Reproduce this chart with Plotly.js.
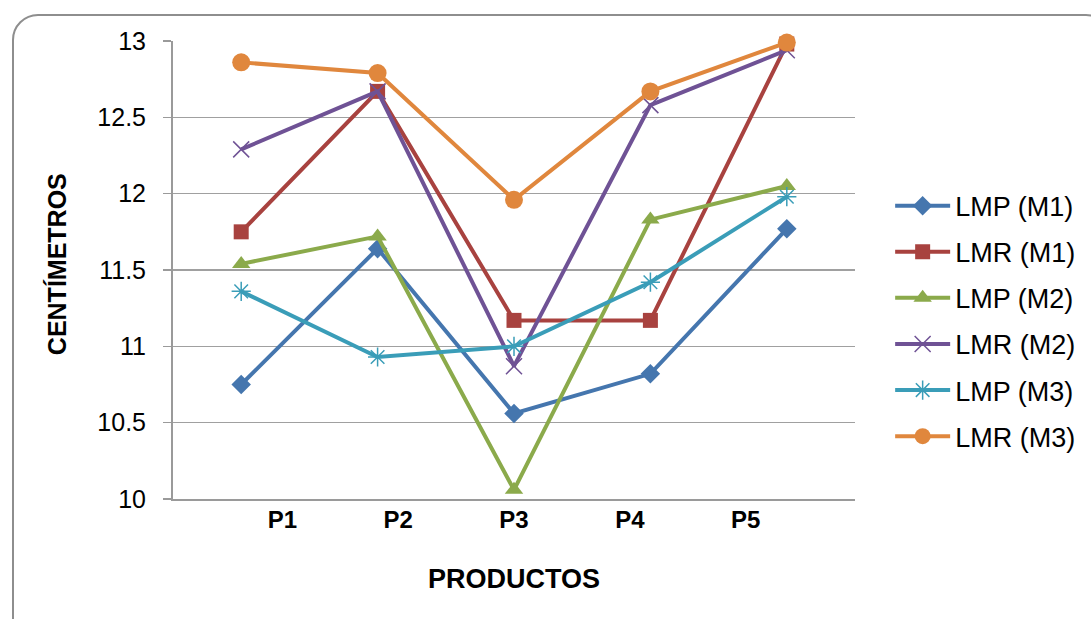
<!DOCTYPE html>
<html>
<head>
<meta charset="utf-8">
<script src="https://cdn.plot.ly/plotly-3.0.1.min.js"></script>
<style>
  html, body { margin: 0; padding: 0; width: 1091px; height: 619px; overflow: hidden; background: #fff; }
  #frame {
    position: absolute; left: 12px; top: 14px; width: 1100px; height: 640px;
    border: 2px solid #8e8e8e; border-radius: 26px; box-sizing: border-box;
  }
  #chart { position: absolute; left: 0; top: 0; width: 1091px; height: 619px; }
</style>
</head>
<body>
<div id="frame"></div>
<div id="chart"></div>
<script>
// Productos evaluados
const productos = ['P1', 'P2', 'P3', 'P4', 'P5'];

// Longitudes en centímetros por serie
const lmpM1 = [10.75, 11.64, 10.56, 10.82, 11.77];
const lmrM1 = [11.75, 12.67, 11.17, 11.17, 12.98];
const lmpM2 = [11.54, 11.72, 10.06, 11.83, 12.05];
const lmrM2 = [12.29, 12.67, 10.87, 12.58, 12.94];
const lmpM3 = [11.36, 10.93, 11.00, 11.42, 11.98];
const lmrM3 = [12.86, 12.79, 11.96, 12.67, 12.99];

const seriesNames = ['LMP (M1)', 'LMR (M1)', 'LMP (M2)', 'LMR (M2)', 'LMP (M3)', 'LMR (M3)'];

const FONT = 'Liberation Sans, Arial, sans-serif';
const productIndex = productos.map((_, i) => i);

function serie(name, values, lineColor, marker) {
  return {
    type: 'scatter', mode: 'lines+markers',
    x: productos, y: values, name: name, legendgroup: name,
    line: { color: lineColor, width: 4 },
    marker: marker,
    cliponaxis: false
  };
}

const traces = [
  serie(seriesNames[0], lmpM1, '#4576AE', { symbol: 'diamond', size: 15, color: '#4576AE' }),
  serie(seriesNames[1], lmrM1, '#A8423F', { symbol: 'square', size: 15, color: '#A8423F' }),
  serie(seriesNames[2], lmpM2, '#8BAA4B', { symbol: 'triangle-up', size: 16, color: '#8BAA4B' }),
  serie(seriesNames[3], lmrM2, '#6F5295', { symbol: 'x-thin-open', size: 16, line: { color: '#9A86BC', width: 1.5 } }),
  serie(seriesNames[4], lmpM3, '#3A9DB8', { symbol: 'asterisk-open', size: 16, line: { color: '#4BB2CC', width: 1.5 } }),
  serie(seriesNames[5], lmrM3, '#E0873D', { symbol: 'circle', size: 18, color: '#E0873D' }),
  // empty trace that carries the category labels axis
  { type: 'scatter', x: [], y: [], xaxis: 'x2', yaxis: 'y', showlegend: false, hoverinfo: 'skip' }
];

const layout = {
  width: 1091, height: 619,
  margin: { l: 173, r: 235, t: 41, b: 120 },
  paper_bgcolor: 'rgba(0,0,0,0)',
  plot_bgcolor: 'rgba(0,0,0,0)',
  font: { family: FONT, color: '#000' },
  showlegend: true,
  legend: {
    x: 1.05, xanchor: 'left', y: 0.693, yanchor: 'top',
    font: { family: FONT, size: 27, color: '#000' },
    traceorder: 'grouped', tracegroupgap: 8,
    bgcolor: 'rgba(0,0,0,0)', itemwidth: 55
  },
  xaxis: {
    type: 'category', range: [-0.5, 4.5],
    showline: true, linecolor: '#9a9a9a', linewidth: 2,
    showgrid: false, zeroline: false, ticks: '', showticklabels: false,
    fixedrange: true
  },
  // category labels, spaced slightly tighter than the points and centred on P3
  xaxis2: {
    overlaying: 'x', anchor: 'y', side: 'bottom',
    range: [-0.944, 4.944], tickmode: 'array', tickvals: productIndex, ticktext: productos,
    showline: false, showgrid: false, zeroline: false, ticks: '',
    tickfont: { family: FONT, size: 24, weight: 'bold', color: '#000' },
    ticklabelstandoff: 4, fixedrange: true
  },
  yaxis: {
    range: [10, 13], dtick: 0.5, tick0: 10,
    showline: true, linecolor: '#9a9a9a', linewidth: 2,
    showgrid: true, gridcolor: '#a0a0a0', gridwidth: 1.5, zeroline: false,
    ticks: 'outside', ticklen: 8, tickcolor: '#9a9a9a', tickwidth: 1.5,
    tickfont: { family: FONT, size: 25, color: '#000' },
    ticklabelstandoff: 12, fixedrange: true
  },
  annotations: [
    { text: '<b>CENTÍMETROS</b>', xref: 'paper', yref: 'paper', x: (57 - 173) / 683, y: (499 - 264) / 458,
      xanchor: 'center', yanchor: 'middle', textangle: -90, showarrow: false,
      font: { family: FONT, size: 25, color: '#000' } },
    { text: '<b>PRODUCTOS</b>', xref: 'paper', yref: 'paper', x: (515 - 173) / 683, y: (499 - 579) / 458,
      xanchor: 'center', yanchor: 'middle', showarrow: false,
      font: { family: FONT, size: 27, color: '#000' } }
  ]
};

Plotly.newPlot('chart', traces, layout, { staticPlot: true, displayModeBar: false });
</script>
</body>
</html>
